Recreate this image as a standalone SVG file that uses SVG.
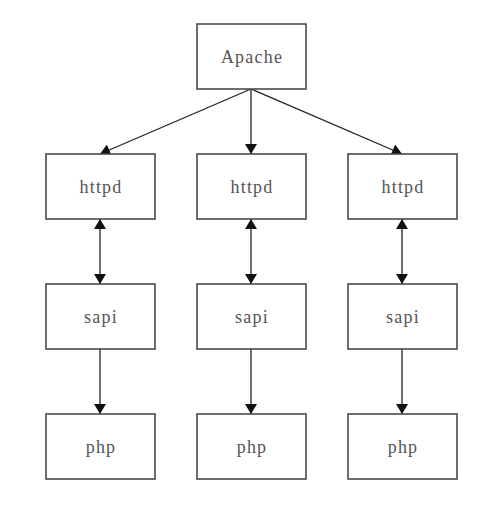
<svg xmlns="http://www.w3.org/2000/svg" width="500" height="512" viewBox="0 0 500 512">
<style>
.box{fill:#fff;stroke:#4a4a4a;stroke-width:1.6}
.lbl{font-family:"Liberation Serif","DejaVu Serif",serif;font-size:18px;letter-spacing:1.2px;fill:#555;text-anchor:middle;dominant-baseline:central}
.ln{stroke:#222;stroke-width:1.3;fill:none}
</style>
<defs>
<marker id="ah" viewBox="0 0 10 12" refX="10" refY="6" markerWidth="11" markerHeight="12" markerUnits="userSpaceOnUse" orient="auto-start-reverse">
<path d="M0,0 L10,6 L0,12 z" fill="#111"/>
</marker>
</defs>
<rect width="500" height="512" fill="#fff"/>
<g id="connectors">
<line class="ln" x1="251" y1="89" x2="100" y2="154" marker-end="url(#ah)"/>
<line class="ln" x1="251" y1="89" x2="251" y2="154" marker-end="url(#ah)"/>
<line class="ln" x1="251" y1="89" x2="402" y2="154" marker-end="url(#ah)"/>
<line class="ln" x1="100" y1="219" x2="100" y2="284" marker-start="url(#ah)" marker-end="url(#ah)"/>
<line class="ln" x1="251" y1="219" x2="251" y2="284" marker-start="url(#ah)" marker-end="url(#ah)"/>
<line class="ln" x1="402" y1="219" x2="402" y2="284" marker-start="url(#ah)" marker-end="url(#ah)"/>
<line class="ln" x1="100" y1="349" x2="100" y2="414" marker-end="url(#ah)"/>
<line class="ln" x1="251" y1="349" x2="251" y2="414" marker-end="url(#ah)"/>
<line class="ln" x1="402" y1="349" x2="402" y2="414" marker-end="url(#ah)"/>
</g>
<g id="apache"><rect class="box" x="197" y="24" width="109" height="65"/><text class="lbl" x="252" y="56.5">Apache</text></g>
<g id="httpd1"><rect class="box" x="46" y="154" width="109" height="65"/><text class="lbl" x="101" y="186.5">httpd</text></g>
<g id="httpd2"><rect class="box" x="197" y="154" width="109" height="65"/><text class="lbl" x="252" y="186.5">httpd</text></g>
<g id="httpd3"><rect class="box" x="348" y="154" width="109" height="65"/><text class="lbl" x="403" y="186.5">httpd</text></g>
<g id="sapi1"><rect class="box" x="46" y="284" width="109" height="65"/><text class="lbl" x="101" y="316.5">sapi</text></g>
<g id="sapi2"><rect class="box" x="197" y="284" width="109" height="65"/><text class="lbl" x="252" y="316.5">sapi</text></g>
<g id="sapi3"><rect class="box" x="348" y="284" width="109" height="65"/><text class="lbl" x="403" y="316.5">sapi</text></g>
<g id="php1"><rect class="box" x="46" y="414" width="109" height="65"/><text class="lbl" x="101" y="446.5">php</text></g>
<g id="php2"><rect class="box" x="197" y="414" width="109" height="65"/><text class="lbl" x="252" y="446.5">php</text></g>
<g id="php3"><rect class="box" x="348" y="414" width="109" height="65"/><text class="lbl" x="403" y="446.5">php</text></g>
</svg>
